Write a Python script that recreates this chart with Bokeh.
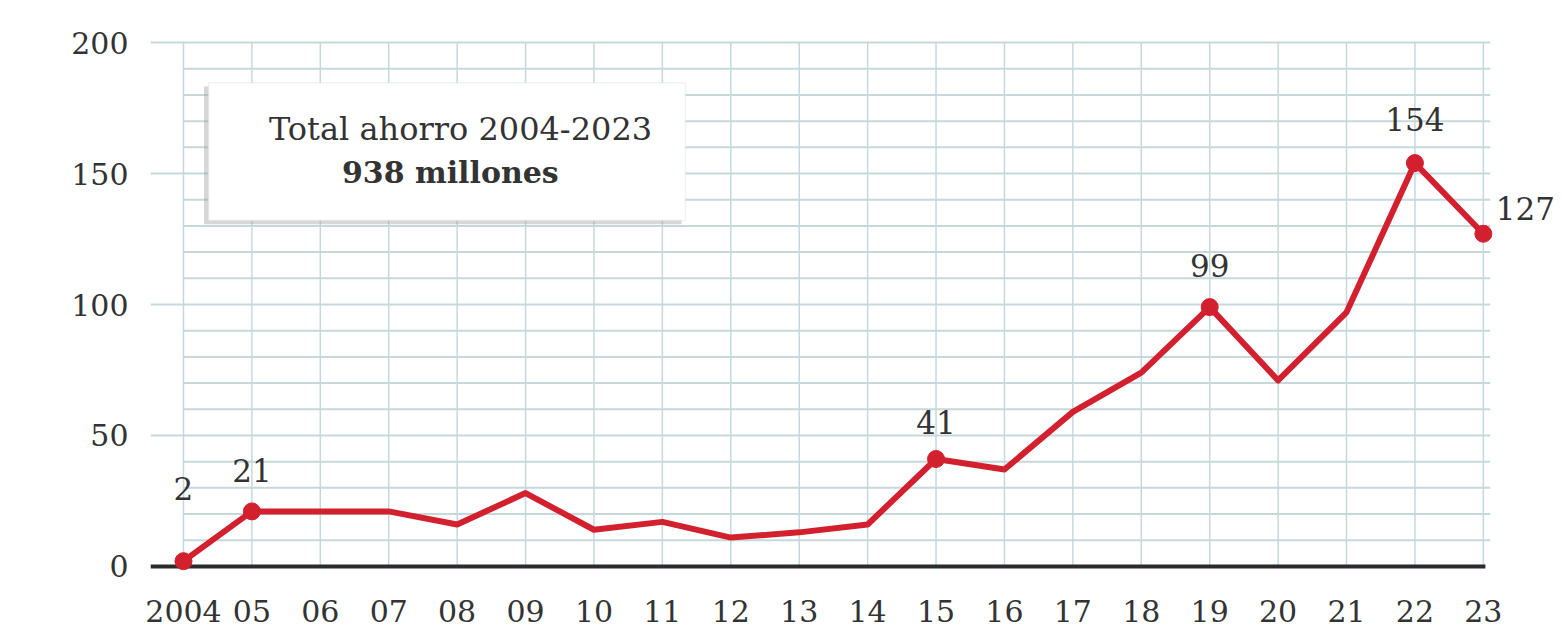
import numpy as np
from bokeh.plotting import figure
from bokeh.models import FixedTicker, BoxAnnotation, Label, ColumnDataSource
from bokeh.core.properties import value
from bokeh.embed import file_html
from bokeh.resources import INLINE

# ---- data ----
years = list(range(2004, 2024))
ahorro = [2, 21, 21, 21, 16, 28, 14, 17, 11, 13, 16, 41, 37, 59, 74, 99, 71, 97, 154, 127]
x_tick_labels = ["2004", "05", "06", "07", "08", "09", "10", "11", "12", "13",
                 "14", "15", "16", "17", "18", "19", "20", "21", "22", "23"]
y_ticks = [0, 50, 100, 150, 200]
labelled_years = [2004, 2005, 2015, 2019, 2022, 2023]
box_title = "Total ahorro 2004-2023"
box_total = "938 millones"

# label styling (screen offsets in px)
label_dx = [0, 0, 0, 0, 0, 42]
label_dy = [73, 41, 37, 42, 44, 25]

RED = "#d2202f"
GRID = "#c6d8dc"
TXT = "#333333"
FONT = "DejaVu Serif"

X0, X1 = 2003.518, 2024.04
p = figure(width=1554, height=628, x_range=(X0, X1), y_range=(-5, 205),
           output_backend="svg", toolbar_location=None,
           min_border_left=150, min_border_right=0, min_border_top=29, min_border_bottom=49)
p.outline_line_color = None
p.xgrid.visible = False
p.ygrid.visible = False
p.background_fill_color = "white"

# ---- custom grid ----
grid_right = 2023.1
minor = [v for v in range(0, 201, 10) if v % 50 != 0]
major = [v for v in range(50, 201, 50)]
p.segment(x0=[years[0]] * len(minor), x1=[grid_right] * len(minor), y0=minor, y1=minor,
          line_color=GRID, line_width=2)
p.segment(x0=[X0] * len(major), x1=[grid_right] * len(major), y0=major, y1=major,
          line_color=GRID, line_width=2)
p.segment(x0=years, x1=years, y0=[0] * len(years), y1=[200] * len(years),
          line_color=GRID, line_width=1.5)
# baseline
p.segment(x0=[X0], x1=[2023.03], y0=[0], y1=[0], line_color="#2b2b2b", line_width=4)

# ---- series ----
p.line(years, ahorro, line_color=RED, line_width=6, line_join="round")
lab_vals = [ahorro[years.index(y)] for y in labelled_years]
src = ColumnDataSource(dict(x=labelled_years, y=lab_vals, t=[str(v) for v in lab_vals],
                            dx=label_dx, dy=[-d for d in label_dy]))
p.scatter("x", "y", source=src, size=17, fill_color=RED, line_color=RED)
p.text("x", "y", text="t", source=src, x_offset="dx", y_offset="dy",
       text_font=value(FONT), text_font_size="31px", text_color=TXT,
       text_align="center", text_baseline="middle")

# ---- info box ----
p.add_layout(BoxAnnotation(left=2004.30, right=2011.28, top=183.2, bottom=130.6,
                           fill_color="#9a9a9a", fill_alpha=0.4, line_color=None))
p.add_layout(BoxAnnotation(left=2004.366, right=2011.337, top=184.7, bottom=132.1,
                           fill_color="white", fill_alpha=1.0, line_color="#d4d4d4", line_width=1.5))
p.add_layout(Label(x=2008.05, y=167.2, text=box_title, text_font=FONT, text_font_size="32px",
                   text_color=TXT, text_align="center", text_baseline="middle"))
p.add_layout(Label(x=2007.9, y=150.4, text=box_total, text_font=FONT, text_font_size="30px",
                   text_font_style="bold", text_color=TXT, text_align="center",
                   text_baseline="middle"))

# ---- axes ----
p.xaxis.ticker = FixedTicker(ticks=years)
p.xaxis.major_label_overrides = {y: l for y, l in zip(years, x_tick_labels)}
p.yaxis.ticker = FixedTicker(ticks=y_ticks)
for ax in (p.xaxis[0], p.yaxis[0]):
    ax.axis_line_color = None
    ax.major_tick_line_color = None
    ax.minor_tick_line_color = None
    ax.major_label_text_font = FONT
    ax.major_label_text_font_size = "30px"
    ax.major_label_text_color = TXT
p.xaxis.major_label_standoff = 14
p.yaxis.major_label_standoff = 16
p.yaxis.major_label_text_baseline = "alphabetic"

open("out.html", "w").write(file_html(p, INLINE))
